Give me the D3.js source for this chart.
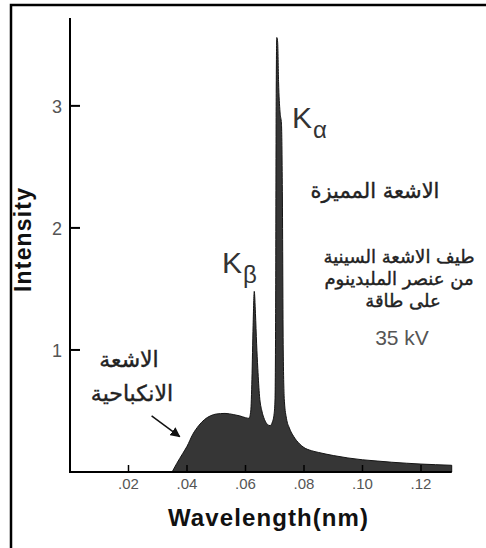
<!DOCTYPE html>
<html>
<head>
<meta charset="utf-8">
<script src="https://cdn.jsdelivr.net/npm/d3@7"></script>
<style>
  body { margin: 0; background: #fff; }
  svg { display: block; }
</style>
</head>
<body>
<svg id="chart" width="486" height="548"></svg>
<script>
// spectrum (wavelength nm -> intensity)
var wavelength = [0.0349, 0.0365, 0.0385, 0.040, 0.042, 0.044, 0.046, 0.048, 0.050, 0.053,
    0.056, 0.058, 0.0600, 0.0612, 0.0618, 0.0622, 0.0626, 0.0630, 0.0634, 0.0638,
    0.0642, 0.0648, 0.0656, 0.0665, 0.0675, 0.0684, 0.0692, 0.0698, 0.0701, 0.0703,
    0.0705, 0.0707, 0.0710, 0.0713, 0.0718, 0.0723, 0.0726, 0.0729, 0.0733, 0.0740,
    0.0750, 0.0765, 0.0785, 0.080, 0.0825, 0.085, 0.090, 0.095, 0.100, 0.105,
    0.110, 0.115, 0.120, 0.125, 0.1305];
var intensity = [0, 0.07, 0.15, 0.21, 0.31, 0.38, 0.43, 0.46, 0.475, 0.48,
    0.47, 0.46, 0.445, 0.44, 0.5, 0.76, 1.2, 1.48, 1.3, 1.05,
    0.85, 0.62, 0.5, 0.43, 0.39, 0.38, 0.41, 0.48, 0.6, 1.3,
    3.1, 3.56, 3.52, 3.2, 2.95, 2.85, 2.3, 1.0, 0.58, 0.44,
    0.36, 0.29, 0.23, 0.2, 0.175, 0.16, 0.135, 0.115, 0.1, 0.09,
    0.08, 0.072, 0.065, 0.06, 0.055];

var xTicks = [0.02, 0.04, 0.06, 0.08, 0.10, 0.12];
var xTickLabels = [".02", ".04", ".06", ".08", ".10", ".12"];
var yTicks = [1, 2, 3];
var yTickLabels = ["1", "2", "3"];

var svg = d3.select("#chart");

// frame (only top and left edges show in the picture)
svg.append("rect")
    .attr("x", 11).attr("y", 5)
    .attr("width", 490).attr("height", 560)
    .attr("fill", "none")
    .attr("stroke", "#000")
    .attr("stroke-width", 2.5);

var x = d3.scaleLinear().domain([0, 0.12]).range([70, 421]);
var y = d3.scaleLinear().domain([0, 3.72]).range([472, 18]);

var pts = wavelength.map(function(w, i) { return [w, intensity[i]]; });

var area = d3.area()
    .x(function(d) { return x(d[0]); })
    .y0(y(0))
    .y1(function(d) { return y(d[1]); })
    .curve(d3.curveMonotoneX);

svg.append("path")
    .datum(pts)
    .attr("d", area)
    .attr("fill", "#363636")
    .attr("stroke", "#141414")
    .attr("stroke-width", 1);

// axes lines
svg.append("line")
    .attr("x1", x(0)).attr("x2", x(0))
    .attr("y1", y(3.72)).attr("y2", y(0) + 1)
    .attr("stroke", "#000").attr("stroke-width", 2);
svg.append("line")
    .attr("x1", x(0) - 1).attr("x2", x(0.1305))
    .attr("y1", y(0)).attr("y2", y(0))
    .attr("stroke", "#000").attr("stroke-width", 2);

// ticks point inward
svg.selectAll(".xtick").data(xTicks).enter().append("line")
    .attr("class", "xtick")
    .attr("x1", function(d) { return x(d); })
    .attr("x2", function(d) { return x(d); })
    .attr("y1", y(0)).attr("y2", y(0) - 7)
    .attr("stroke", "#000").attr("stroke-width", 1.5);
svg.selectAll(".xlab").data(xTicks).enter().append("text")
    .attr("class", "xlab")
    .attr("x", function(d) { return x(d); })
    .attr("y", 489)
    .attr("text-anchor", "middle")
    .attr("font-family", "Liberation Sans, Arial, sans-serif")
    .attr("font-size", "15px")
    .attr("fill", "#555")
    .text(function(d, i) { return xTickLabels[i]; });

svg.selectAll(".ytick").data(yTicks).enter().append("line")
    .attr("class", "ytick")
    .attr("x1", x(0)).attr("x2", x(0) + 10)
    .attr("y1", function(d) { return y(d); })
    .attr("y2", function(d) { return y(d); })
    .attr("stroke", "#000").attr("stroke-width", 2);
svg.selectAll(".ylab").data(yTicks).enter().append("text")
    .attr("class", "ylab")
    .attr("x", 62)
    .attr("y", function(d) { return y(d) + 7; })
    .attr("text-anchor", "end")
    .attr("font-family", "Liberation Sans, Arial, sans-serif")
    .attr("font-size", "18px")
    .attr("fill", "#555")
    .text(function(d, i) { return yTickLabels[i]; });

// axis titles
svg.append("text")
    .attr("x", 268).attr("y", 526)
    .attr("text-anchor", "middle")
    .attr("font-family", "Liberation Sans, Arial, sans-serif")
    .attr("font-weight", "bold")
    .attr("font-size", "24px")
    .attr("textLength", 200)
    .attr("fill", "#111")
    .text("Wavelength(nm)");

svg.append("text")
    .attr("transform", "translate(31,240) rotate(-90)")
    .attr("text-anchor", "middle")
    .attr("font-family", "Liberation Sans, Arial, sans-serif")
    .attr("font-weight", "bold")
    .attr("font-size", "23px")
    .attr("textLength", 104)
    .attr("fill", "#111")
    .text("Intensity");

// peak labels
function kLabel(px, py, sub) {
    var t = svg.append("text")
        .attr("x", px).attr("y", py)
        .attr("font-family", "Liberation Sans, Arial, sans-serif")
        .attr("fill", "#333");
    t.append("tspan").attr("font-size", "30px").text("K");
    t.append("tspan").attr("font-size", "24px").attr("dy", 10).attr("dx", 1).text(sub);
}
kLabel(292, 128, "\u03b1");
kLabel(222, 273, "\u03b2");

// arabic notes
var arFont = "DejaVu Sans, sans-serif";
function note(px, py, size, txt) {
    return svg.append("text")
        .attr("x", px).attr("y", py)
        .attr("text-anchor", "middle")
        .attr("font-family", arFont)
        .attr("font-size", size)
        .attr("fill", "#222")
        .attr("stroke", "#222")
        .attr("stroke-width", 0.4)
        .text(txt);
}
note(375, 198, "21px", "الاشعة المميزة");
note(399, 263, "18px", "طيف الاشعة السينية");
note(399, 285, "18px", "من عنصر الملبدينوم");
note(403, 307, "18px", "على طاقة");
note(402, 345, "21px", "35 kV")
    .attr("font-family", "Liberation Sans, Arial, sans-serif")
    .attr("stroke", null)
    .attr("fill", "#555");

note(129, 367, "22px", "الاشعة");
note(132, 401, "22px", "الانكباحية");

// arrow toward continuous part
svg.append("defs").append("marker")
    .attr("id", "ah")
    .attr("viewBox", "0 0 10 10")
    .attr("refX", 9).attr("refY", 5)
    .attr("markerWidth", 10).attr("markerHeight", 10)
    .attr("markerUnits", "userSpaceOnUse")
    .attr("orient", "auto")
    .append("path").attr("d", "M0,0 L10,5 L0,10 z").attr("fill", "#111");
svg.append("line")
    .attr("x1", x(0.0279)).attr("y1", y(0.46))
    .attr("x2", x(0.0375)).attr("y2", y(0.29))
    .attr("stroke", "#111").attr("stroke-width", 1.5)
    .attr("marker-end", "url(#ah)");
</script>
</body>
</html>
